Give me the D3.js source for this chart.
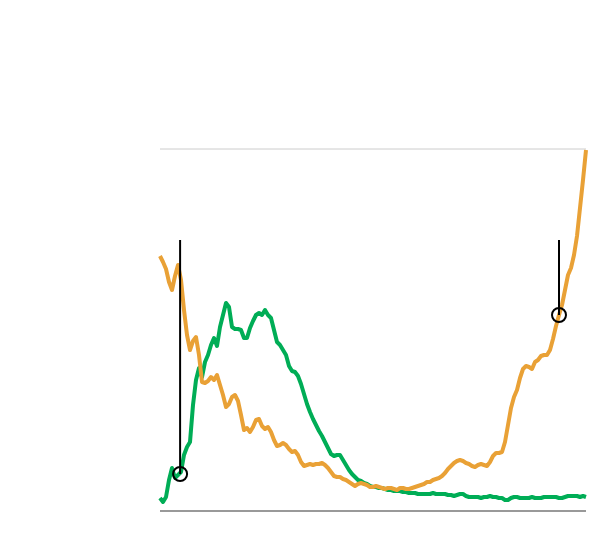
<!DOCTYPE html>
<html>
<head>
<meta charset="utf-8">
<script src="https://cdn.jsdelivr.net/npm/d3@7"></script>
<style>
  body { margin: 0; background: #fff; }
  svg { display: block; }
</style>
</head>
<body>
<svg></svg>
<script>
const width = 608;
const height = 554;
const margin = { top: 149, right: 22, bottom: 43, left: 160 };

// daily values, one per day
const orangeValues = [
  255, 249, 242, 229, 221, 235, 246, 231, 201, 176, 161, 170, 174, 156, 129, 128,
  130, 134, 131, 136, 126, 116, 104, 107, 114, 116, 110, 96, 81, 83, 79, 84,
  91, 92, 85, 82, 84, 79, 71, 65, 66, 68, 66, 62, 59, 60, 56, 49,
  45, 46, 47, 46, 47, 47, 48, 46, 43, 39, 35, 34, 34, 32, 31, 29,
  27, 25, 27, 28, 27, 26, 24, 24, 25, 24, 23, 22, 23, 23, 22, 21,
  23, 23, 22, 22, 23, 24, 25, 26, 27, 29, 29, 31, 32, 33, 35, 38,
  42, 45, 48, 50, 51, 50, 48, 47, 45, 44, 46, 47, 46, 45, 49, 55,
  58, 58, 59, 69, 86, 103, 114, 121, 133, 142, 145, 144, 142, 149, 151, 155,
  156, 156, 161, 172, 185, 196, 206, 221, 236, 243, 256, 275, 303, 331, 361
];

const greenValues = [
  13, 9, 14, 31, 43, 33, 36, 39, 56, 64, 69, 106, 131, 143, 134, 149,
  156, 166, 173, 165, 184, 196, 208, 204, 184, 182, 182, 181, 173, 173, 183, 190,
  196, 198, 196, 201, 196, 193, 181, 169, 166, 161, 156, 145, 140, 139, 135, 127,
  117, 107, 99, 92, 86, 80, 75, 69, 63, 57, 55, 56, 56, 51, 46, 41,
  37, 34, 31, 30, 28, 27, 25, 24, 24, 23, 23, 22, 21, 21, 20, 20,
  20, 19, 19, 18, 18, 18, 17, 17, 17, 17, 17, 18, 17, 17, 17, 17,
  16, 16, 15, 16, 17, 17, 15, 14, 14, 14, 14, 13, 14, 14, 15, 14,
  14, 13, 13, 11, 11, 13, 14, 14, 13, 13, 13, 13, 14, 13, 13, 13,
  14, 14, 14, 14, 14, 13, 13, 14, 15, 15, 15, 15, 14, 15, 14
];

const markers = [
  { day: 6.7, value: 37, top: 271 },
  { day: 133, value: 196, top: 271 }
];

const yMax = 362;

const x = d3.scaleLinear()
  .domain([0, orangeValues.length - 1])
  .range([margin.left, width - margin.right]);

const y = d3.scaleLinear()
  .domain([0, yMax])
  .range([height - margin.bottom, margin.top]);

const svg = d3.select("svg")
  .attr("width", width)
  .attr("height", height);

// top gridline
svg.append("line")
  .attr("x1", x(0))
  .attr("x2", x(orangeValues.length - 1))
  .attr("y1", y(yMax))
  .attr("y2", y(yMax))
  .attr("stroke", "#cccccc")
  .attr("stroke-width", 1);

// baseline
svg.append("line")
  .attr("x1", x(0))
  .attr("x2", x(orangeValues.length - 1))
  .attr("y1", y(0))
  .attr("y2", y(0))
  .attr("stroke", "#999999")
  .attr("stroke-width", 2);

const line = d3.line()
  .x((d, i) => x(i))
  .y(d => y(d));

svg.append("path")
  .datum(greenValues)
  .attr("fill", "none")
  .attr("stroke", "#00ad56")
  .attr("stroke-width", 4)
  .attr("stroke-linejoin", "round")
  .attr("d", line);

svg.append("path")
  .datum(orangeValues)
  .attr("fill", "none")
  .attr("stroke", "#e9a136")
  .attr("stroke-width", 4)
  .attr("stroke-linejoin", "round")
  .attr("d", line);

svg.selectAll(".marker-line")
  .data(markers)
  .enter()
  .append("line")
    .attr("class", "marker-line")
    .attr("x1", d => x(d.day))
    .attr("x2", d => x(d.day))
    .attr("y1", d => y(d.top))
    .attr("y2", d => y(d.value))
    .attr("stroke", "#000")
    .attr("stroke-width", 2);

svg.selectAll(".marker-dot")
  .data(markers)
  .enter()
  .append("circle")
    .attr("class", "marker-dot")
    .attr("cx", d => x(d.day))
    .attr("cy", d => y(d.value))
    .attr("r", 7)
    .attr("fill", "none")
    .attr("stroke", "#000")
    .attr("stroke-width", 2);
</script>
</body>
</html>
